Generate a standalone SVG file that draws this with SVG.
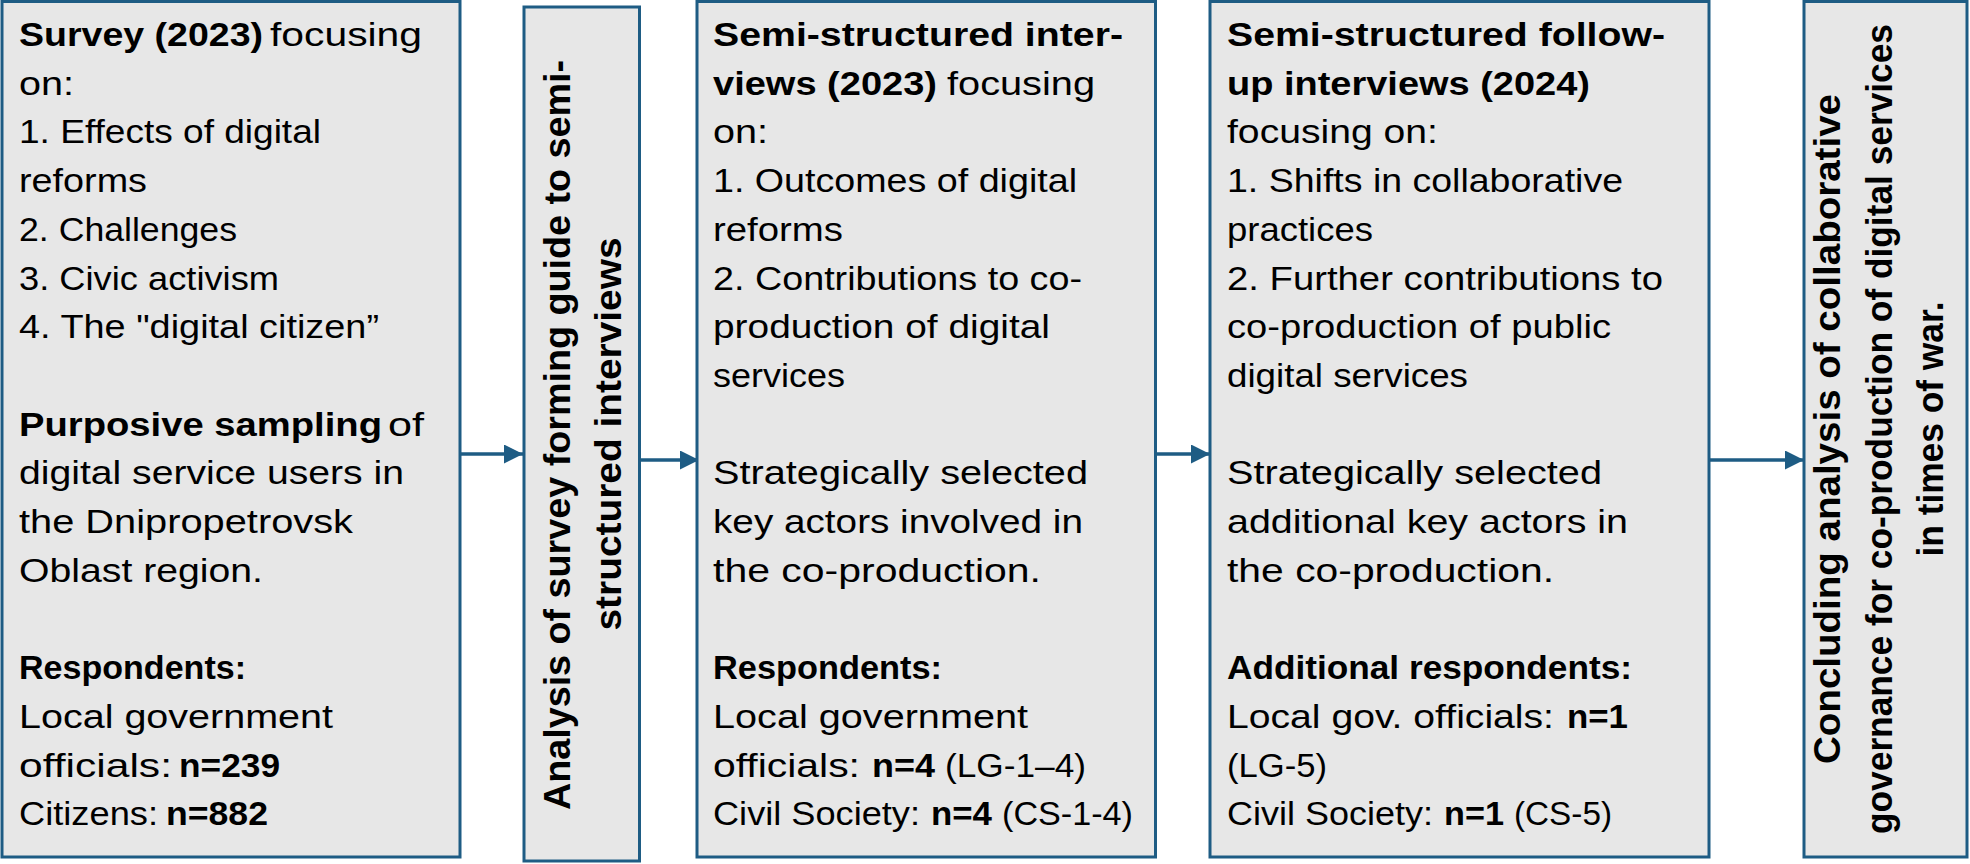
<svg xmlns="http://www.w3.org/2000/svg" width="1970" height="864" viewBox="0 0 1970 864">
<style>
.box{fill:#E7E7E7;stroke:#1E5C84;stroke-width:3}
.t{font-family:'Liberation Sans',Arial,sans-serif;font-size:34px;fill:#000}
.b{font-weight:bold}
.r{font-family:'Liberation Sans',Arial,sans-serif;font-size:37px;font-weight:bold;fill:#000}
.c{stroke:#1E5C84;stroke-width:3.5;fill:none}
</style>
<defs>
<marker id="ah" markerUnits="userSpaceOnUse" markerWidth="20" markerHeight="20" refX="19" refY="9.5" orient="auto">
<path d="M0,0 L19,9.5 L0,19 z" fill="#1E5C84"/>
</marker>
</defs>
<rect width="1970" height="864" fill="#FFFFFF"/>
<g id="connectors">
<line class="c" x1="460" y1="454" x2="523" y2="454" marker-end="url(#ah)"/>
<line class="c" x1="640" y1="460" x2="699" y2="460" marker-end="url(#ah)"/>
<line class="c" x1="1156" y1="454" x2="1210" y2="454" marker-end="url(#ah)"/>
<line class="c" x1="1709" y1="460" x2="1804" y2="460" marker-end="url(#ah)"/>
</g>
<g id="survey">
<rect class="box" x="2" y="1.5" width="458" height="855.5"/>
<text class="t b" x="19" y="46" textLength="244" lengthAdjust="spacingAndGlyphs">Survey (2023)</text>
<text class="t" x="270" y="46" textLength="152" lengthAdjust="spacingAndGlyphs">focusing</text>
<text class="t" x="19" y="94.7" textLength="55" lengthAdjust="spacingAndGlyphs">on:</text>
<text class="t" x="19" y="143.4" textLength="302" lengthAdjust="spacingAndGlyphs">1. Effects of digital</text>
<text class="t" x="19" y="192.1" textLength="128" lengthAdjust="spacingAndGlyphs">reforms</text>
<text class="t" x="19" y="240.8" textLength="218" lengthAdjust="spacingAndGlyphs">2. Challenges</text>
<text class="t" x="19" y="289.5" textLength="260" lengthAdjust="spacingAndGlyphs">3. Civic activism</text>
<text class="t" x="19" y="338.2" textLength="360" lengthAdjust="spacingAndGlyphs">4. The "digital citizen”</text>
<text class="t b" x="19" y="435.6" textLength="363" lengthAdjust="spacingAndGlyphs">Purposive sampling</text>
<text class="t" x="388" y="435.6" textLength="36" lengthAdjust="spacingAndGlyphs">of</text>
<text class="t" x="19" y="484.3" textLength="385" lengthAdjust="spacingAndGlyphs">digital service users in</text>
<text class="t" x="19" y="533" textLength="334" lengthAdjust="spacingAndGlyphs">the Dnipropetrovsk</text>
<text class="t" x="19" y="581.7" textLength="244" lengthAdjust="spacingAndGlyphs">Oblast region.</text>
<text class="t b" x="19" y="679.1" textLength="227" lengthAdjust="spacingAndGlyphs">Respondents:</text>
<text class="t" x="19" y="727.8" textLength="314" lengthAdjust="spacingAndGlyphs">Local government</text>
<text class="t" x="19" y="776.5" textLength="153" lengthAdjust="spacingAndGlyphs">officials:</text>
<text class="t b" x="179" y="776.5" textLength="101" lengthAdjust="spacingAndGlyphs">n=239</text>
<text class="t" x="19" y="825.2" textLength="139" lengthAdjust="spacingAndGlyphs">Citizens:</text>
<text class="t b" x="166" y="825.2" textLength="102" lengthAdjust="spacingAndGlyphs">n=882</text>
</g>
<g id="analysis">
<rect class="box" x="524" y="7" width="115.5" height="854"/>
<text class="r" transform="translate(570,435) rotate(-90)" x="-375" y="0" textLength="750" lengthAdjust="spacingAndGlyphs">Analysis of survey forming guide to semi-</text>
<text class="r" transform="translate(621,434) rotate(-90)" x="-196.5" y="0" textLength="393" lengthAdjust="spacingAndGlyphs">structured interviews</text>
</g>
<g id="interviews2023">
<rect class="box" x="697" y="1.5" width="458.5" height="855.5"/>
<text class="t b" x="713" y="46" textLength="410" lengthAdjust="spacingAndGlyphs">Semi-structured inter-</text>
<text class="t b" x="713" y="94.7" textLength="224" lengthAdjust="spacingAndGlyphs">views (2023)</text>
<text class="t" x="947" y="94.7" textLength="148" lengthAdjust="spacingAndGlyphs">focusing</text>
<text class="t" x="713" y="143.4" textLength="55" lengthAdjust="spacingAndGlyphs">on:</text>
<text class="t" x="713" y="192.1" textLength="364" lengthAdjust="spacingAndGlyphs">1. Outcomes of digital</text>
<text class="t" x="713" y="240.8" textLength="130" lengthAdjust="spacingAndGlyphs">reforms</text>
<text class="t" x="713" y="289.5" textLength="369" lengthAdjust="spacingAndGlyphs">2. Contributions to co-</text>
<text class="t" x="713" y="338.2" textLength="337" lengthAdjust="spacingAndGlyphs">production of digital</text>
<text class="t" x="713" y="386.9" textLength="132" lengthAdjust="spacingAndGlyphs">services</text>
<text class="t" x="713" y="484.3" textLength="375" lengthAdjust="spacingAndGlyphs">Strategically selected</text>
<text class="t" x="713" y="533" textLength="370" lengthAdjust="spacingAndGlyphs">key actors involved in</text>
<text class="t" x="713" y="581.7" textLength="328" lengthAdjust="spacingAndGlyphs">the co-production.</text>
<text class="t b" x="713" y="679.1" textLength="229" lengthAdjust="spacingAndGlyphs">Respondents:</text>
<text class="t" x="713" y="727.8" textLength="315" lengthAdjust="spacingAndGlyphs">Local government</text>
<text class="t" x="713" y="776.5" textLength="147" lengthAdjust="spacingAndGlyphs">officials:</text>
<text class="t b" x="872" y="776.5" textLength="63" lengthAdjust="spacingAndGlyphs">n=4</text>
<text class="t" x="945" y="776.5" textLength="141" lengthAdjust="spacingAndGlyphs">(LG-1–4)</text>
<text class="t" x="713" y="825.2" textLength="207" lengthAdjust="spacingAndGlyphs">Civil Society:</text>
<text class="t b" x="931" y="825.2" textLength="61" lengthAdjust="spacingAndGlyphs">n=4</text>
<text class="t" x="1002" y="825.2" textLength="131" lengthAdjust="spacingAndGlyphs">(CS-1-4)</text>
</g>
<g id="interviews2024">
<rect class="box" x="1210" y="1.5" width="499" height="855.5"/>
<text class="t b" x="1227" y="46" textLength="438" lengthAdjust="spacingAndGlyphs">Semi-structured follow-</text>
<text class="t b" x="1227" y="94.7" textLength="363" lengthAdjust="spacingAndGlyphs">up interviews (2024)</text>
<text class="t" x="1227" y="143.4" textLength="211" lengthAdjust="spacingAndGlyphs">focusing on:</text>
<text class="t" x="1227" y="192.1" textLength="396" lengthAdjust="spacingAndGlyphs">1. Shifts in collaborative</text>
<text class="t" x="1227" y="240.8" textLength="146" lengthAdjust="spacingAndGlyphs">practices</text>
<text class="t" x="1227" y="289.5" textLength="436" lengthAdjust="spacingAndGlyphs">2. Further contributions to</text>
<text class="t" x="1227" y="338.2" textLength="384" lengthAdjust="spacingAndGlyphs">co-production of public</text>
<text class="t" x="1227" y="386.9" textLength="241" lengthAdjust="spacingAndGlyphs">digital services</text>
<text class="t" x="1227" y="484.3" textLength="375" lengthAdjust="spacingAndGlyphs">Strategically selected</text>
<text class="t" x="1227" y="533" textLength="401" lengthAdjust="spacingAndGlyphs">additional key actors in</text>
<text class="t" x="1227" y="581.7" textLength="327" lengthAdjust="spacingAndGlyphs">the co-production.</text>
<text class="t b" x="1227" y="679.1" textLength="405" lengthAdjust="spacingAndGlyphs">Additional respondents:</text>
<text class="t" x="1227" y="727.8" textLength="327" lengthAdjust="spacingAndGlyphs">Local gov. officials:</text>
<text class="t b" x="1567" y="727.8" textLength="61" lengthAdjust="spacingAndGlyphs">n=1</text>
<text class="t" x="1227" y="776.5" textLength="100" lengthAdjust="spacingAndGlyphs">(LG-5)</text>
<text class="t" x="1227" y="825.2" textLength="206" lengthAdjust="spacingAndGlyphs">Civil Society:</text>
<text class="t b" x="1444" y="825.2" textLength="60" lengthAdjust="spacingAndGlyphs">n=1</text>
<text class="t" x="1514" y="825.2" textLength="98" lengthAdjust="spacingAndGlyphs">(CS-5)</text>
</g>
<g id="conclusion">
<rect class="box" x="1804" y="1.5" width="163" height="855.5"/>
<text class="r" transform="translate(1840,429) rotate(-90)" x="-335" y="0" textLength="670" lengthAdjust="spacingAndGlyphs">Concluding analysis of collaborative</text>
<text class="r" transform="translate(1892,429) rotate(-90)" x="-405" y="0" textLength="810" lengthAdjust="spacingAndGlyphs">governance for co-production of digital services</text>
<text class="r" transform="translate(1943,429) rotate(-90)" x="-127.5" y="0" textLength="255" lengthAdjust="spacingAndGlyphs">in times of war.</text>
</g>
</svg>
